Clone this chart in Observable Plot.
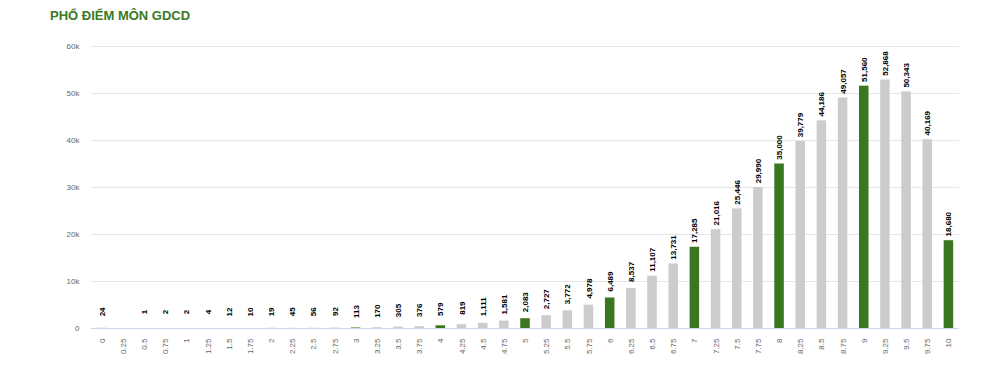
<!DOCTYPE html>
<html>
<head>
<meta charset="utf-8">
<script src="https://cdn.jsdelivr.net/npm/d3@7"></script>
<script src="https://cdn.jsdelivr.net/npm/@observablehq/plot@0.6"></script>
<style>
  html, body { margin: 0; padding: 0; background: #fff; }
  body { width: 990px; height: 374px; overflow: hidden; font-family: "Liberation Sans", Arial, sans-serif; }
  #title { height: 30px; box-sizing: border-box; padding: 9px 0 0 50px; line-height: 14px; font-size: 13px; font-weight: bold; color: #3b7a1f; }
  #chart svg { display: block; }
</style>
</head>
<body>
<div id="title">PHỔ ĐIỂM MÔN GDCD</div>
<div id="chart"></div>
<script>
const scores = ["0","0.25","0.5","0.75","1","1.25","1.5","1.75","2","2.25","2.5","2.75","3","3.25","3.5","3.75","4","4.25","4.5","4.75","5","5.25","5.5","5.75","6","6.25","6.5","6.75","7","7.25","7.5","7.75","8","8.25","8.5","8.75","9","9.25","9.5","9.75","10"];
const counts = [24,0,1,2,2,4,12,10,19,45,56,92,113,170,305,376,579,819,1111,1581,2083,2727,3772,4978,6489,8537,11107,13731,17285,21016,25446,29990,35000,39779,44186,49057,51560,52868,50343,40169,18680];
const yTicks = [0,10000,20000,30000,40000,50000,60000];
const greenColor = "#3b7721";
const grayColor = "#cccccc";

const data = scores.map((s, i) => ({score: s, count: counts[i], whole: Number.isInteger(+s)}));
const fmt = d3.format(",");

const chart = Plot.plot({
  width: 990,
  height: 344,
  marginTop: 16,
  marginBottom: 46,
  marginLeft: 91,
  marginRight: 31,
  style: {fontFamily: "'Liberation Sans', Arial, sans-serif", background: "#fff", overflow: "visible"},
  x: {type: "band", domain: scores, paddingInner: 0.55, paddingOuter: 0.275, round: false, label: null},
  y: {domain: [0, 60000], label: null},
  color: {type: "identity"},
  marks: [
    Plot.gridY(yTicks, {stroke: "#e6e6e6", strokeOpacity: 1}),
    Plot.axisY(yTicks, {tickSize: 0, tickPadding: 12, fontSize: 8, fill: "#666", label: null,
      tickFormat: d => d === 0 ? "0" : (d / 1000) + "k"}),
    Plot.axisX({tickSize: 0, tickPadding: 10, tickRotate: -90, fontSize: 8, fill: "#666", label: null}),
    Plot.barY(data, {x: "score", y: "count", fill: d => d.whole ? greenColor : grayColor}),
    Plot.ruleY([0], {stroke: "#ccd6eb"}),
    Plot.text(data.filter(d => d.count > 0), {x: "score", y: "count", text: d => fmt(d.count),
      rotate: -90, dy: -16.5, textAnchor: "middle", fontSize: 8, fontWeight: "bold", fill: "#000"})
  ]
});
document.getElementById("chart").appendChild(chart);
</script>
</body>
</html>
